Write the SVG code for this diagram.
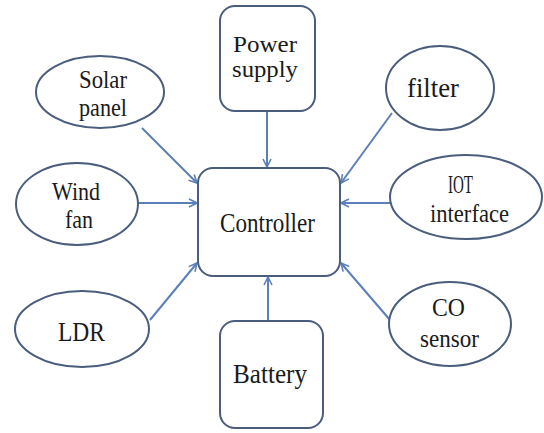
<svg xmlns="http://www.w3.org/2000/svg" width="544" height="433" viewBox="0 0 544 433">
<defs>
<marker id="ah" markerWidth="10" markerHeight="10" refX="9" refY="5" orient="auto" markerUnits="userSpaceOnUse">
<path d="M1,1 L9,5 L1,9" fill="none" stroke="#5b7fb8" stroke-width="1.6"/>
</marker>
</defs>
<style>
.n{fill:#ffffff;stroke:#4a5d7c;stroke-width:2}
.c{stroke:#5b7fb8;stroke-width:2;fill:none;marker-end:url(#ah)}
text{font-family:'Times New Roman','Liberation Serif','DejaVu Serif',serif}
</style>
<rect width="544" height="433" fill="#ffffff"/>
<g id="connectors">
<line class="c" x1="267" y1="111" x2="267" y2="167"/>
<line class="c" x1="142" y1="128" x2="197" y2="183"/>
<line class="c" x1="138" y1="203" x2="197" y2="203"/>
<line class="c" x1="150" y1="320" x2="197" y2="263"/>
<line class="c" x1="268" y1="321" x2="268" y2="277"/>
<line class="c" x1="392" y1="113" x2="341" y2="183"/>
<line class="c" x1="390" y1="203" x2="341" y2="203"/>
<line class="c" x1="390" y1="320" x2="341" y2="263"/>
</g>
<g font-size="26" fill="#1a1a1a" text-anchor="middle">
<g id="power">
<rect class="n" x="220" y="6" width="95" height="105" rx="15"/>
<text x="265" y="52" font-size="24" textLength="64" lengthAdjust="spacingAndGlyphs">Power</text>
<text x="265" y="77" font-size="24" textLength="66" lengthAdjust="spacingAndGlyphs">supply</text>
</g>
<g id="controller">
<rect class="n" x="198" y="168" width="142" height="108" rx="15"/>
<text x="267.5" y="232" font-size="28" textLength="95" lengthAdjust="spacingAndGlyphs">Controller</text>
</g>
<g id="battery">
<rect class="n" x="220" y="321" width="103" height="107" rx="15"/>
<text x="270" y="383" font-size="28" textLength="74" lengthAdjust="spacingAndGlyphs">Battery</text>
</g>
<g id="solar">
<ellipse class="n" cx="100" cy="92" rx="64" ry="36"/>
<text x="103" y="88" textLength="48" lengthAdjust="spacingAndGlyphs">Solar</text>
<text x="103" y="116" textLength="48" lengthAdjust="spacingAndGlyphs">panel</text>
</g>
<g id="wind">
<ellipse class="n" cx="77" cy="204" rx="61" ry="41"/>
<text x="76" y="200" textLength="48" lengthAdjust="spacingAndGlyphs">Wind</text>
<text x="79" y="228" textLength="28" lengthAdjust="spacingAndGlyphs">fan</text>
</g>
<g id="ldr">
<ellipse class="n" cx="82" cy="329" rx="67" ry="38"/>
<text x="81.5" y="341" font-size="28" textLength="47" lengthAdjust="spacingAndGlyphs">LDR</text>
</g>
<g id="filter">
<ellipse class="n" cx="440" cy="88" rx="54" ry="42"/>
<text x="433" y="97" font-size="28" textLength="52" lengthAdjust="spacingAndGlyphs">filter</text>
</g>
<g id="iot">
<ellipse class="n" cx="466" cy="197" rx="76" ry="42"/>
<text x="460.5" y="193" textLength="25" lengthAdjust="spacingAndGlyphs">IOT</text>
<text x="469.5" y="222" textLength="79" lengthAdjust="spacingAndGlyphs">interface</text>
</g>
<g id="co">
<ellipse class="n" cx="450" cy="324" rx="61" ry="42"/>
<text x="448.5" y="316" textLength="33" lengthAdjust="spacingAndGlyphs">CO</text>
<text x="449.5" y="347" textLength="59" lengthAdjust="spacingAndGlyphs">sensor</text>
</g>
</g>
</svg>
